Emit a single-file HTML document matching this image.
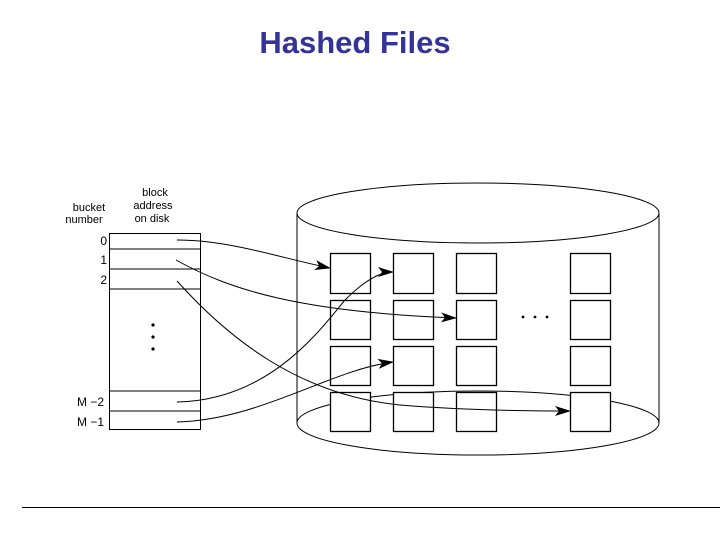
<!DOCTYPE html>
<html><head><style>body{margin:0;background:#fff}svg{display:block}</style></head><body>
<svg width="720" height="540" viewBox="0 0 720 540" xmlns="http://www.w3.org/2000/svg">
<defs><marker id="a" markerWidth="16" markerHeight="10" refX="15" refY="5" orient="auto" markerUnits="userSpaceOnUse"><path d="M0,0 L16,5 L0,10 L4,5 Z" fill="#000"/></marker></defs>
<text x="355" y="53" text-anchor="middle" font-family="Liberation Sans, sans-serif" font-weight="bold" font-size="31" fill="#333399">Hashed Files</text>
<g font-family="Liberation Sans, sans-serif" font-size="11" fill="#000" text-anchor="middle">
<text x="89" y="211">bucket</text><text x="84" y="223">number</text>
<text x="155" y="196">block</text><text x="153" y="209">address</text><text x="152" y="222">on disk</text>
</g>
<g font-family="Liberation Sans, sans-serif" font-size="12" fill="#000" text-anchor="end">
<text x="107" y="245">0</text><text x="107" y="264">1</text><text x="107" y="284">2</text>
<text x="104" y="406">M −2</text><text x="104" y="426">M −1</text>
</g>
<g fill="none" stroke="#000" stroke-width="1">
<rect x="109.5" y="233.5" width="91" height="196"/>
<path d="M109 249H200M109 269H200M109 289H200M109 391H200M109 411H200"/>
<path d="M297 213V423M659 213V423"/>
<ellipse cx="478" cy="213" rx="181" ry="30" fill="#fff"/>
<path d="M297 423 A181 32 0 0 0 659 423"/>
<path d="M297 423 A181 32 0 0 1 659 423"/>
<g stroke-width="1.3" fill="#fff">
<rect x="330.5" y="253.5" width="40" height="40"/><rect x="393.5" y="253.5" width="40" height="40"/><rect x="456.5" y="253.5" width="40" height="40"/><rect x="570.5" y="253.5" width="40" height="40"/>
<rect x="330.5" y="300.5" width="40" height="39"/><rect x="393.5" y="300.5" width="40" height="39"/><rect x="456.5" y="300.5" width="40" height="39"/><rect x="570.5" y="300.5" width="40" height="39"/>
<rect x="330.5" y="346.5" width="40" height="39"/><rect x="393.5" y="346.5" width="40" height="39"/><rect x="456.5" y="346.5" width="40" height="39"/><rect x="570.5" y="346.5" width="40" height="39"/>
<rect x="330.5" y="392.5" width="40" height="39"/><rect x="393.5" y="392.5" width="40" height="39"/><rect x="456.5" y="392.5" width="40" height="39"/><rect x="570.5" y="392.5" width="40" height="39"/>
</g>
<path d="M177 240 C230 240 280 258 330 268" marker-end="url(#a)"/>
<path d="M176 260 C230 290 300 312 456 318" marker-end="url(#a)"/>
<path d="M177 281 C230 340 300 395 400 405 C460 410 520 411 570 411" marker-end="url(#a)"/>
<path d="M177 402 C270 400 320 330 345 300 C365 280 380 272 393 272" marker-end="url(#a)"/>
<path d="M177 422 C260 420 330 370 393 362" marker-end="url(#a)"/>
</g>
<g fill="#000"><circle cx="153" cy="325" r="1.6"/><circle cx="153" cy="337" r="1.6"/><circle cx="153" cy="349" r="1.6"/>
<circle cx="523" cy="317" r="1.4"/><circle cx="535" cy="317" r="1.4"/><circle cx="547" cy="317" r="1.4"/></g>
<line x1="22" y1="507.5" x2="720" y2="507.5" stroke="#000" stroke-width="1"/>
</svg>
</body></html>
